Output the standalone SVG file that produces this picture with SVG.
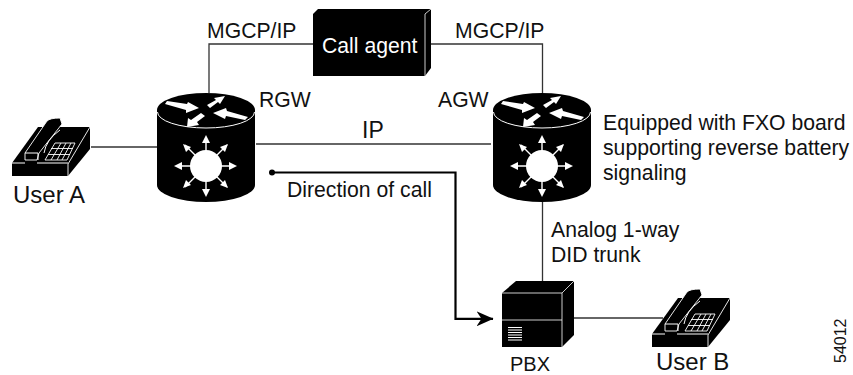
<svg xmlns="http://www.w3.org/2000/svg" xmlns:xlink="http://www.w3.org/1999/xlink" width="853" height="375" viewBox="0 0 853 375">
<style>
text{font-family:"Liberation Sans",Arial,sans-serif;font-size:21.2px;fill:#111}
.u{font-size:24px}
.c{fill:none;stroke:#333;stroke-width:1.3}
.w{fill:#fff;stroke:none}
.wl{fill:none;stroke:#fff;stroke-width:1}
.wa{fill:none;stroke:#fff;stroke-width:1.4}
</style>
<defs>
<marker id="ah" viewBox="0 0 17 15" refX="16.500" refY="7.500" markerWidth="17" markerHeight="15" markerUnits="userSpaceOnUse" orient="auto"><path d="M0,0 L17,7.500 L0,15 L5,7.500Z" fill="#000"/></marker>
<g id="router">
<path d="M157,110 A49,17 0 0 1 255,110 V185 A49,17 0 0 1 157,185Z" fill="#000"/>
<path d="M157.500,112 A48.500,16 0 0 0 254.500,112" class="wl"/>
<path class="w" d="M165,104 L167,101 L187,104 L188,102 L199,108 L186,113 L186,110Z"/>
<path class="w" d="M207,105 L216,100 L214,98 L225,96 L220,104 L218,102 L210,108Z"/>
<path class="w" d="M248,117 L245,120 L226,116 L225,119 L213,113 L226,108 L227,111Z"/>
<path class="w" d="M205,116 L197,122 L199,125 L187,127 L188,118 L191,120 L201,113Z"/>
<circle cx="206" cy="166" r="16" class="w"/>
<path class="wa" d="M206,166V138M206,166V194M177,166H235M185,145L227,187M227,145L185,187"/>
<path class="w" d="M206,135l-4,8h8zM206,197l-4,-8h8zM174,166l8,-4v8zM237,166l-8,-4v8zM183,144l8,3l-5,5zM228,144l-8,3l5,5zM183,188l8,-3l-5,-5zM228,188l-8,-3l5,-5z"/>
</g>
<g id="phone">
<path d="M12,163 L38,127 H90 V149 L68,176 H12Z" fill="#000"/>
<path d="M68,176 V164 L90,127" fill="none" stroke="#fff" stroke-width="0.9"/>
<path d="M12,163 H25 M37,163 H68" class="wl"/>
<path d="M25,160 V153 L47,121 Q50,118 60,118 L62,124 L39,153 L37,160Z" fill="#000" stroke="#fff" stroke-width="0.9"/>
<path d="M25,153 H38 V160" class="wl"/>
<path d="M60,130 Q46,140 44,153" class="wl" stroke-width="0.8"/>
<path d="M45,160 L55,143 H75 L67,160Z M48,154.500 H70 M51,148.500 H73 M51,160 L61,143 M57,160 L66,143 M62,160 L71,143" class="wl" style="stroke-width:.9"/>
</g>
</defs>
<g id="connectors">
<path class="c" d="M209,93 V44 H313"/>
<path class="c" d="M431,44 H542.500 V93"/>
<path class="c" d="M256,144 H491"/>
<path class="c" d="M91,147 H157"/>
<path class="c" d="M542.500,202 V281"/>
<path class="c" d="M574,318 H663"/>
<circle cx="272" cy="172.500" r="3" fill="#000"/>
<path d="M272,172.500 H455.500 V318.800 H493" fill="none" stroke="#000" stroke-width="2.200" marker-end="url(#ah)"/>
</g>
<g id="call-agent">
<path d="M313,14 L318,9 H431 V68 L425,76 H313Z" fill="#000"/>
<path d="M425,76 V14 L431,9" fill="none" stroke="#fff" stroke-width="0.8"/>
<text x="322" y="53" style="fill:#fff">Call agent</text>
</g>
<g id="rgw"><use xlink:href="#router"/><text x="259" y="107">RGW</text></g>
<g id="agw"><use xlink:href="#router" x="336"/><text x="438" y="107">AGW</text></g>
<g id="user-a"><use xlink:href="#phone"/><text x="13" y="203" class="u">User A</text></g>
<g id="user-b"><use xlink:href="#phone" x="640" y="171"/><text x="656" y="370" class="u">User B</text></g>
<g id="pbx">
<path d="M502,293 L516,281 H574 V335 L562,347 H502Z" fill="#000"/>
<path d="M502,293 H562 L574,281 M562,293 V347 M502,320 H562" fill="none" stroke="#fff" stroke-width="0.8"/>
<path d="M508,327.500 H522 M508,330 H522 M508,332.500 H522 M508,335 H522 M508,337.500 H522 M508,340 H522" class="wl"/>
<text x="510" y="371" style="font-size:20px">PBX</text>
</g>
<g id="labels">
<text x="207" y="38">MGCP/IP</text>
<text x="455" y="38">MGCP/IP</text>
<text x="362" y="138" style="font-size:23px">IP</text>
<text x="287" y="197">Direction of call</text>
<text x="603" y="130">Equipped with FXO board</text>
<text x="603" y="155">supporting reverse battery</text>
<text x="603" y="180">signaling</text>
<text x="551" y="237">Analog 1-way</text>
<text x="551" y="262">DID trunk</text>
<text transform="translate(846,363) rotate(-90)" style="font-size:16px">54012</text>
</g>
</svg>
